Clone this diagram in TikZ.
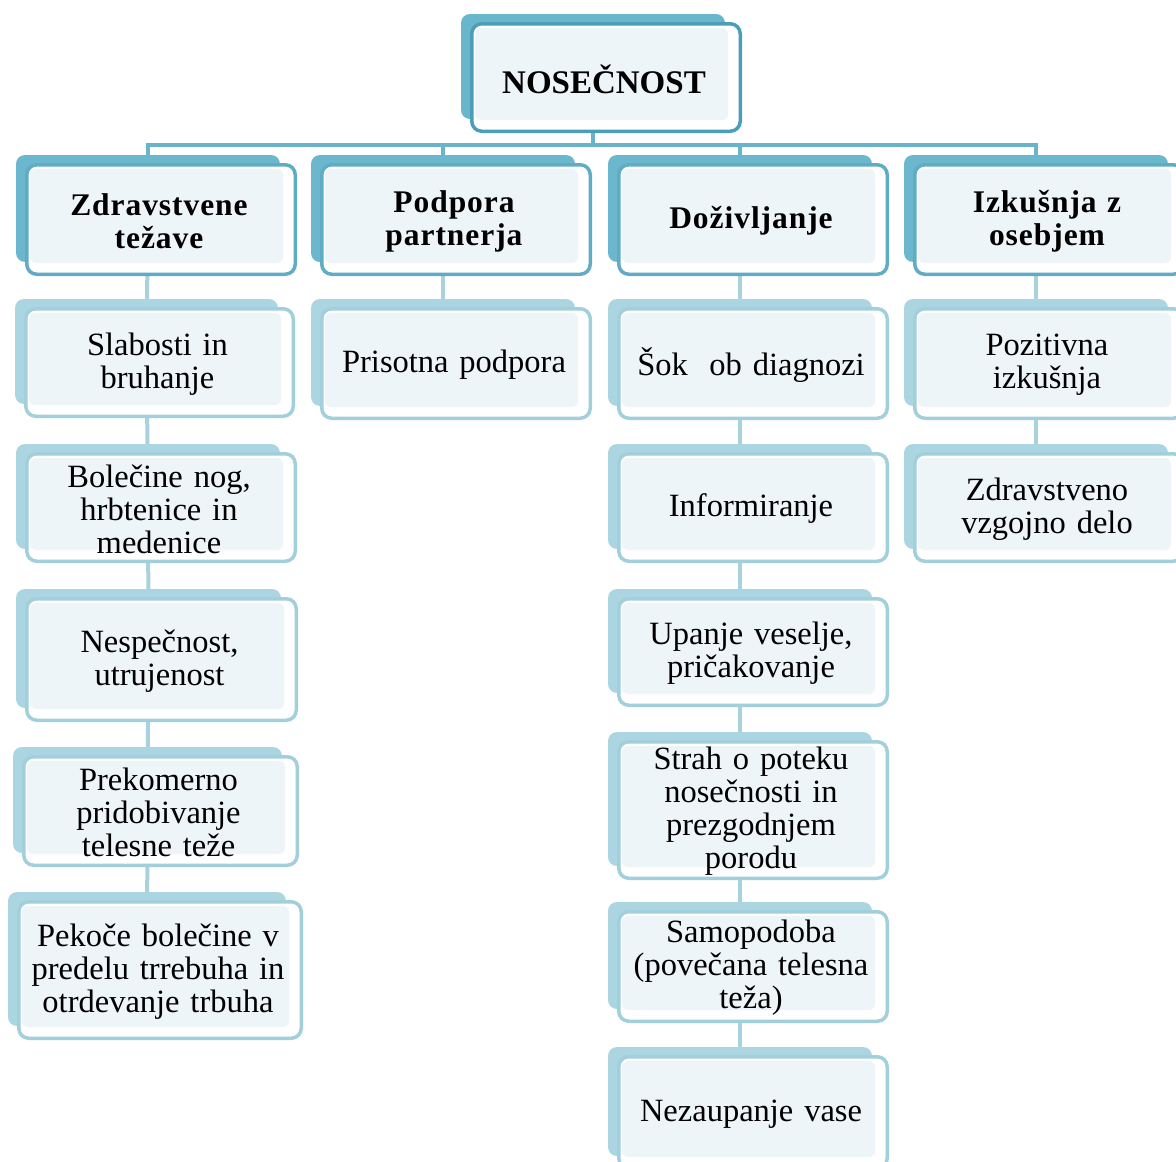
\documentclass[tikz,border=0pt]{standalone}
\usepackage{fontspec}
\setmainfont{Liberation Serif}[WordSpace=0.55]
\newfontfamily\hdfont[LetterSpace=3,WordSpace=0.8]{Liberation Serif}
\pgfdeclarelayer{bg}
\pgfsetlayers{bg,main}
\definecolor{bordA}{HTML}{4A9EB9}
\definecolor{shadA}{HTML}{6AB6CC}
\definecolor{bordB}{HTML}{5FACC4}
\definecolor{shadB}{HTML}{6BB7CD}
\definecolor{bordC}{HTML}{A2CFDC}
\definecolor{shadC}{HTML}{ABD5E1}
\definecolor{innerfill}{HTML}{EEF5F8}
\definecolor{lineA}{HTML}{6AB4CA}
\definecolor{lineC}{HTML}{A8D2DE}
\tikzset{
  txtA/.style={font=\fontsize{33}{36}\selectfont\bfseries, align=center, text width=265pt},
  txtB/.style={font=\hdfont\fontsize{31.5}{33}\selectfont\bfseries, align=center, text width=265pt},
  txtC/.style={font=\fontsize{32.5}{33}\selectfont, align=center, text width=280pt},
  conA/.style={draw=lineA, line width=4pt},
  conC/.style={draw=lineC, line width=4pt},
}
% #1 name, #2 x1, #3 y1, #4 x2, #5 y2, #6 level letter, #7 text
\newcommand\cbox[7]{%
  \node[fill=shad#6, rounded corners=9pt, inner sep=0pt, outer sep=0pt,
        minimum width={(#4-#2-8)*1pt}, minimum height={(#5-#3-6)*1pt}]
        (#1-s) at ({(#2+#4)/2-13},{(#3+#5)/2-11}) {};
  \node[draw=bord#6, line width=3.5pt, fill=white, rounded corners=10pt, inner sep=0pt, outer sep=0pt,
        minimum width={(#4-#2-3.5)*1pt}, minimum height={(#5-#3-3.5)*1pt}]
        (#1) at ({(#2+#4)/2},{(#3+#5)/2}) {};
  \fill[innerfill, rounded corners=6pt] ({#2+5},{#3+6}) rectangle ({#4-14},{#5-13});
  \node[txt#6] (#1-t) at ({(#2+#4)/2-2},{(#3+#5)/2+1.5}) {#7};
}
\begin{document}
\begin{tikzpicture}[x=1pt, y=-1pt]
\useasboundingbox (0,0) rectangle (1176,1162);
\clip (0,0) rectangle (1176,1162);
\cbox{root}{470}{22}{742}{133}{A}{NOSEČNOST}
\cbox{la}{25}{163}{297}{276}{B}{Zdravstvene\\težave}
\cbox{lb}{320}{163}{592}{276}{B}{Podpora\\partnerja}
\cbox{lc}{617}{163}{889}{276}{B}{Doživljanje}
\cbox{ld}{913}{163}{1185}{276}{B}{Izkušnja z\\osebjem}
\cbox{a1}{24}{307}{295}{418}{C}{Slabosti in\\bruhanje}
\cbox{a2}{25}{452}{297}{563}{C}{Bolečine nog,\\hrbtenice in\\medenice}
\cbox{a3}{25}{597}{298}{722}{C}{Nespečnost,\\utrujenost}
\cbox{a4}{22}{755}{299}{867}{C}{Prekomerno\\pridobivanje\\telesne teže}
\cbox{a5}{17}{900}{303}{1040}{C}{Pekoče bolečine v\\predelu trrebuha in\\otrdevanje trbuha}
\cbox{b1}{320}{307}{592}{420}{C}{Prisotna podpora}
\cbox{c1}{617}{307}{889}{420}{C}{Šok~ ob diagnozi}
\cbox{c2}{617}{452}{889}{563}{C}{Informiranje}
\cbox{c3}{617}{597}{889}{707}{C}{Upanje veselje,\\pričakovanje}
\cbox{c4}{617}{740}{889}{880}{C}{Strah o poteku\\nosečnosti in\\prezgodnjem\\porodu}
\cbox{c5}{617}{910}{889}{1023}{C}{Samopodoba\\(povečana telesna\\teža)}
\cbox{c6}{617}{1055}{889}{1170}{C}{Nezaupanje vase}
\cbox{d1}{913}{307}{1185}{420}{C}{Pozitivna\\izkušnja}
\cbox{d2}{913}{452}{1185}{563}{C}{Zdravstveno\\vzgojno delo}
\coordinate (bus) at (0,145);
\begin{pgfonlayer}{bg}
  \draw[conA] (root-s.center) -- (root-s |- bus);
  \draw[conA] (la-s.center) |- (root-s |- bus) -| (ld-s.center);
  \draw[conA] (lb-s.center) -- (lb-s |- bus);
  \draw[conA] (lc-s.center) -- (lc-s |- bus);
  \draw[conC] (la-s.center) -- (a1-s.center) -- (a2-s.center) -- (a3-s.center) -- (a4-s.center) -- (a5-s.center);
  \draw[conC] (lb-s.center) -- (b1-s.center);
  \draw[conC] (lc-s.center) -- (c1-s.center) -- (c2-s.center) -- (c3-s.center) -- (c4-s.center) -- (c5-s.center) -- (c6-s.center);
  \draw[conC] (ld-s.center) -- (d1-s.center) -- (d2-s.center);
\end{pgfonlayer}
\end{tikzpicture}
\end{document}
